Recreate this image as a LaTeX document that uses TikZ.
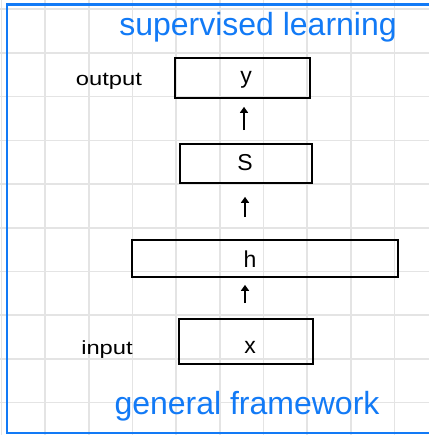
\documentclass[tikz,border=0pt]{standalone}
\usepackage{fontspec}
\setmainfont{Liberation Sans}
\usetikzlibrary{arrows.meta}
\definecolor{inkblue}{RGB}{18,122,246}
\definecolor{gridgray}{RGB}{228,228,228}
\tikzset{
  gridline/.style={draw=gridgray, line width=1.6pt},
  frameline/.style={draw=inkblue, line width=2.4pt},
  layerbox/.style={draw=black, line width=1.7pt, minimum width=#1, inner sep=0pt},
  letter/.style={font=\fontsize{23}{23}\selectfont, inner sep=0pt},
  sidelabel/.style={font=\fontsize{19}{19}\selectfont, inner sep=0pt},
  bluetitle/.style={text=inkblue, font=\fontsize{32}{32}\selectfont, inner sep=0pt},
  uparrow/.style={draw=black, line width=1.7pt, -{Triangle[width=8pt,length=6pt]}}
}
\begin{document}
\begin{tikzpicture}[x=1pt,y=1pt]
\useasboundingbox (0,0) rectangle (429,-435);
\fill[white] (0,0) rectangle (429,-435);
% grid
\foreach \i in {0,...,9} {
  \draw[gridline] ({1.3+43.7*\i},0) -- ({1.3+43.7*\i},-435);
  \draw[gridline] (0,{-9.3-43.7*\i}) -- (429,{-9.3-43.7*\i});
}
% frame (right side cut off)
\draw[frameline] (429,-4.5) -- (7,-4.5) -- (7,-433) -- (429,-433);
% titles
\node[bluetitle] (title) at (258,-27) {supervised learning};
\node[bluetitle] (foot) at (247,-406) {general framework};
% boxes
\node[layerbox=135pt, minimum height=40pt] (ybox) at (242.5,-78) {};
\node[layerbox=132pt, minimum height=39pt] (sbox) at (246,-163.5) {};
\node[layerbox=266pt, minimum height=37pt] (hbox) at (265,-258.5) {};
\node[layerbox=134pt, minimum height=45pt] (xbox) at (246,-341.5) {};
% letters
\node[letter] (ylab) at (246,-80) {y};
\node[letter] (slab) at (245,-163) {S};
\node[letter] (hlab) at (250,-259) {h};
\node[letter] (xlab) at (250,-347) {x};
% side labels
\node[sidelabel] (outlab) at (109,-81) {\scalebox{1.25}[1]{output}};
\node[sidelabel] (inlab) at (107,-350) {\scalebox{1.25}[1]{input}};
% arrows
\draw[uparrow, shorten <=15pt, shorten >=7pt] (xbox.north -| 245,0) -- (hbox.south -| 245,0);
\draw[uparrow, shorten <=22pt, shorten >=13pt] (hbox.north -| 245,0) -- (sbox.south -| 245,0);
\draw[uparrow, shorten <=13pt, shorten >=8pt] (sbox.north -| 244,0) -- (ybox.south -| 244,0);
\end{tikzpicture}
\end{document}
